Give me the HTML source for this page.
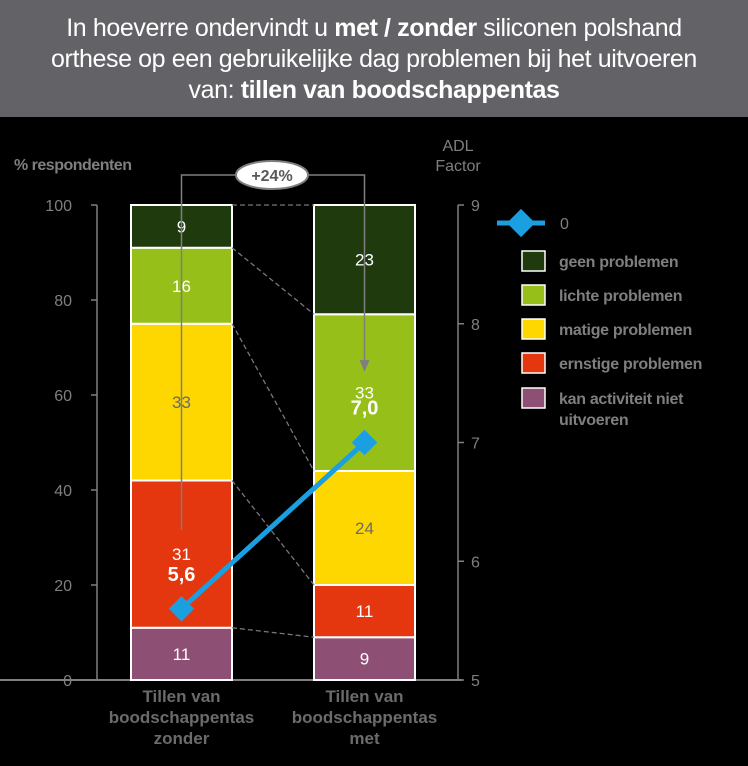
<!DOCTYPE html>
<html><head><meta charset="utf-8"><style>
body{margin:0;width:748px;height:766px;background:#000;overflow:hidden;font-family:"Liberation Sans",Arial,sans-serif}
#title{position:absolute;left:0;top:0;width:748px;height:117px;background:#636367;color:#fff;font-size:25px;line-height:31px;text-align:center;padding-top:13px;box-sizing:border-box;letter-spacing:-0.4px;white-space:nowrap}
</style></head><body>
<div id="title">In hoeverre ondervindt u <b>met / zonder</b> siliconen polshand<br>orthese op een gebruikelijke dag problemen bij het uitvoeren<br>van: <b>tillen van boodschappentas</b></div>
<svg id="chart" width="748" height="766" style="position:absolute;left:0;top:0"></svg>
<script>
const categories=["Tillen van|boodschappentas|zonder","Tillen van|boodschappentas|met"];
const kan=[11,9];
const ernstig=[31,11];
const matig=[33,24];
const licht=[16,33];
const geen=[9,23];
const adl=[5.6,7.0];
const adlLabels=["5,6","7,0"];
const leftTicks=[0,20,40,60,80,100];
const rightTicks=[5,6,7,8,9];
const seriesNames=["geen problemen","lichte problemen","matige problemen","ernstige problemen","kan activiteit niet|uitvoeren"];
const colors=["#1f3b0e","#97bf1a","#fed700","#e4370f","#8e4f74"];
const textColors=["#fff","#fff","#6b6b6b","#fff","#fff"];

const svg=document.getElementById('chart');
const NS='http://www.w3.org/2000/svg';
function mk(t,a,p){const e=document.createElementNS(NS,t);for(const k in a)e.setAttribute(k,a[k]);(p||svg).appendChild(e);return e;}
const y=v=>680-v*4.75;
const y2=v=>680-(v-5)*118.75;
const bx=[131,314],bw=101;
const cx=i=>bx[i]+bw/2;

let ax=mk('line',{x1:0,y1:680,x2:462,y2:680,stroke:'#7f7f7f','stroke-width':2});

let la=mk('line',{x1:97,y1:y(100),x2:97,y2:680,stroke:'#7f7f7f','stroke-width':1.5});

let ra=mk('line',{x1:458,y1:y2(9),x2:458,y2:680,stroke:'#7f7f7f','stroke-width':1.5});

leftTicks.forEach(v=>{
 mk('line',{x1:91,y1:y(v),x2:97,y2:y(v),stroke:'#7f7f7f','stroke-width':1.5});
 const t=mk('text',{x:72,y:y(v)+6,'text-anchor':'end',fill:'#7f7f7f','font-size':16});t.textContent=v;
 
});
rightTicks.forEach(v=>{
 mk('line',{x1:458,y1:y2(v),x2:464,y2:y2(v),stroke:'#7f7f7f','stroke-width':1.5});
 const t=mk('text',{x:471,y:y2(v)+6,fill:'#7f7f7f','font-size':16});t.textContent=v;
 
});
let t=mk('text',{x:14,y:170,fill:'#7f7f7f','font-size':16,'font-weight':'bold','letter-spacing':'-0.5'});t.textContent='% respondenten';

t=mk('text',{x:458,y:151,'text-anchor':'middle',fill:'#7f7f7f','font-size':16});t.textContent='ADL';

t=mk('text',{x:458,y:171,'text-anchor':'middle',fill:'#7f7f7f','font-size':16});t.textContent='Factor';

const stacks=[kan,ernstig,matig,licht,geen];
const stackColor=[colors[4],colors[3],colors[2],colors[1],colors[0]];
const stackText=[textColors[4],textColors[3],textColors[2],textColors[1],textColors[0]];
const tops=[[],[]];
[0,1].forEach(i=>{
 let acc=0;
 stacks.forEach((s,k)=>{
  const r=mk('rect',{x:bx[i],y:y(acc+s[i]),width:bw,height:s[i]*4.75,fill:stackColor[k],stroke:'#fff','stroke-width':2});
  
  const l=mk('text',{x:cx(i),y:y(acc+s[i]/2)+6,'text-anchor':'middle',fill:stackText[k],'font-size':17});l.textContent=s[i];
  
  acc+=s[i];tops[i].push(acc);
 });
});
[0,1,2,3].forEach(k=>{
 mk('line',{x1:bx[0]+bw,y1:y(tops[0][k]),x2:bx[1],y2:y(tops[1][k]),stroke:'#777','stroke-width':1.3,'stroke-dasharray':'5,3'});
});
mk('line',{x1:bx[0]+bw,y1:y(100),x2:bx[1],y2:y(100),stroke:'#777','stroke-width':1.3,'stroke-dasharray':'5,3'});

mk('polyline',{points:`${cx(0)},530 ${cx(0)},175 ${cx(1)},175 ${cx(1)},362`,fill:'none',stroke:'#7f7f7f','stroke-width':1.5});
mk('polygon',{points:`${cx(1)-5},360 ${cx(1)+5},360 ${cx(1)},372`,fill:'#7f7f7f'});
let el=mk('ellipse',{cx:272,cy:175,rx:36,ry:14,fill:'#fff',stroke:'#7f7f7f','stroke-width':2});

t=mk('text',{x:272,y:181,'text-anchor':'middle',fill:'#595959','font-size':16,'font-weight':'bold'});t.textContent='+24%';

let pl=mk('polyline',{points:adl.map((v,i)=>cx(i)+','+y2(v)).join(' '),fill:'none',stroke:'#1a9fe0','stroke-width':5});

adl.forEach((v,i)=>{
 const d=mk('rect',{x:cx(i)-9,y:y2(v)-9,width:18,height:18,fill:'#1a9fe0',transform:`rotate(45 ${cx(i)} ${y2(v)})`});
 
 const l=mk('text',{x:cx(i),y:y2(v)-28,'text-anchor':'middle',fill:'#fff','font-size':20,'font-weight':'bold'});l.textContent=adlLabels[i];
 
});

categories.forEach((c,i)=>{
 c.split('|').forEach((s,j)=>{
  const l=mk('text',{x:cx(i),y:702+j*21,'text-anchor':'middle',fill:'#6b6b6b','font-size':17,'font-weight':'bold'});l.textContent=s;
  
 });
});

mk('line',{x1:497,y1:223,x2:545,y2:223,stroke:'#1a9fe0','stroke-width':5});
mk('rect',{x:511,y:213,width:20,height:20,fill:'#1a9fe0',transform:'rotate(45 521 223)'});
t=mk('text',{x:560,y:229,fill:'#7f7f7f','font-size':16});t.textContent='0';

const ly=[261,295,329,363,398];
seriesNames.forEach((n,k)=>{
 const r=mk('rect',{x:522,y:ly[k]-10,width:23,height:20,fill:colors[k],stroke:'#fff','stroke-width':1.5});
 
 n.split('|').forEach((s,j)=>{
  const l=mk('text',{x:559,y:ly[k]+6+j*21,fill:'#7f7f7f','font-size':16,'font-weight':'bold','letter-spacing':'-0.3'});l.textContent=s;
  
 });
});
</script>
</body></html>
